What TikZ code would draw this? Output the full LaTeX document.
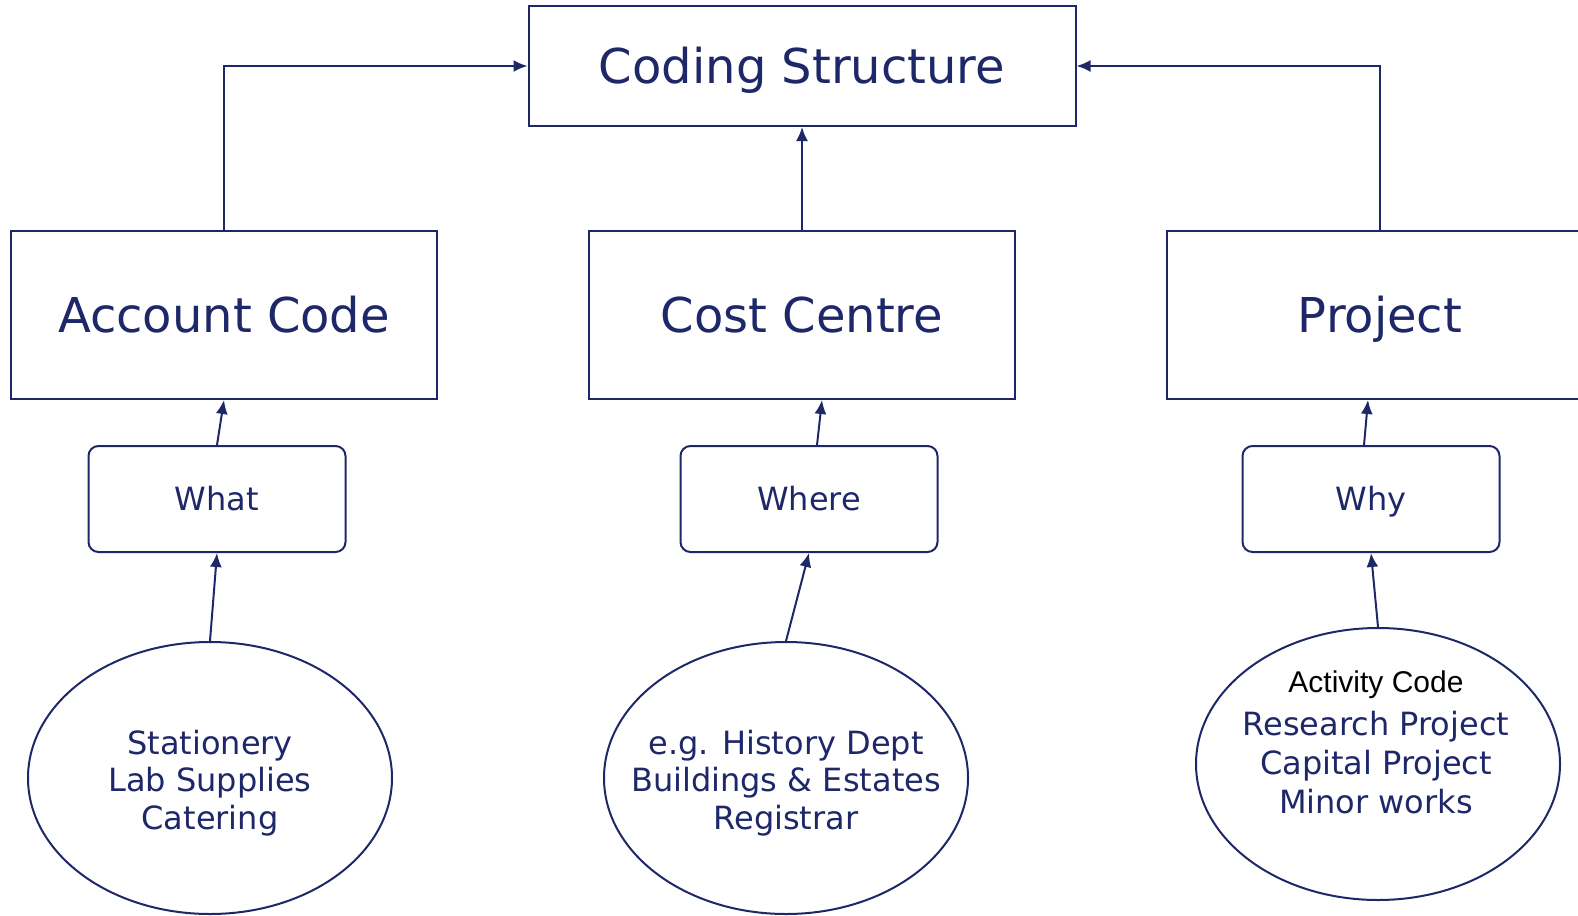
\documentclass[tikz,border=0pt]{standalone}
\usepackage{fontspec}
\setmainfont{DejaVu Sans}
\newfontfamily\activityfont{Liberation Sans}
\usetikzlibrary{shapes.geometric,arrows.meta}
\definecolor{navy}{RGB}{30,40,105}
\begin{document}
\begin{tikzpicture}[x=0.5pt,y=-0.5pt,
		bigbox/.style={draw=navy,line width=1pt,text=navy,minimum width=213pt,minimum height=84pt,text height=17.5pt,text depth=0pt,font=\fontsize{24}{29}\selectfont},
		askbox/.style={draw=navy,line width=1pt,text=navy,rounded corners=5pt,minimum width=128.5pt,minimum height=53pt,text height=11.7pt,text depth=0pt,font=\fontsize{16}{19}\selectfont},
		bubble/.style={ellipse,draw=navy,line width=1pt,minimum width=182pt,minimum height=136pt},
		bubbletext/.style={align=center,text=navy,font=\fontsize{16}{18.75}\selectfont},
		arr/.style={draw=navy,line width=1pt,-{Latex[length=7pt,width=6pt]}}]
	\useasboundingbox (0,0) rectangle (1578,915);

	\node[bigbox,minimum width=273.5pt,minimum height=60pt] (cs) at (802,66) {Coding Structure};

	\node[bigbox] (acct) at (224,315) {Account Code};
	\node[bigbox] (cost) at (802,315) {Cost Centre};
	\node[bigbox] (proj) at (1380,315) {Project};

	\node[askbox] (what) at (217,499) {What};
	\node[askbox] (where) at (809,499) {Where};
	\node[askbox] (why) at (1371,499) {Why};

	\node[bubble] (ell1) at (210,778) {};
	\node[bubble] (ell2) at (786,778) {};
	\node[bubble] (ell3) at (1378,764) {};
	\node[bubbletext] (stat) at (210,783) {Stationery\\Lab Supplies\\Catering};
	\node[bubbletext] (hist) at (786,783) {e.g. History Dept\\Buildings \& Estates\\Registrar};
	\node[bubbletext,font=\fontsize{16}{19.5}\selectfont] (act) at (1376,742)
		{{\activityfont\fontsize{15}{19.5}\selectfont\color{black}Activity Code}\\[2pt]Research Project\\Capital Project\\Minor works};

	\draw[arr] (acct.north) |- (cs.west);
	\draw[arr] (cost.north) -- (cs.south);
	\draw[arr] (proj.north) |- (cs.east);

	\draw[arr] (what.north) -- (acct.south);
	\draw[arr] ([xshift=4pt]where.north) -- ([xshift=10pt]cost.south);
	\draw[arr] ([xshift=-3.5pt]why.north) -- ([xshift=-6pt]proj.south);

	\draw[arr] (ell1.north) -- (what.south);
	\draw[arr] (ell2.north) -- (where.south);
	\draw[arr] (ell3.north) -- (why.south);
\end{tikzpicture}
\end{document}
